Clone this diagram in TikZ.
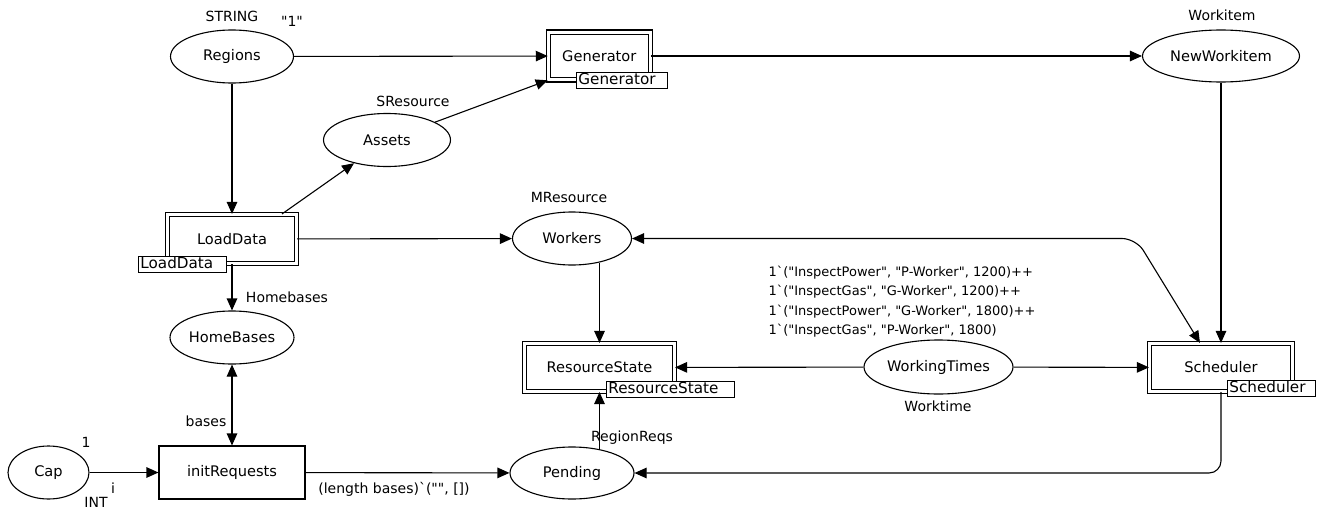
\documentclass[tikz,border=0pt]{standalone}
\usepackage{fontspec}
\setmainfont{DejaVu Sans}[Ligatures=TeXOff]
\usetikzlibrary{shapes.geometric,arrows.meta,calc}
\begin{document}
\begin{tikzpicture}[x=1pt,y=-1pt,
  font=\fontsize{14}{16.5}\selectfont,
  line width=1.1pt,
  place/.style={draw,ellipse,inner sep=0pt,font=\fontsize{14.6}{17}\selectfont},
  trans/.style={draw,rectangle,inner sep=0pt,font=\fontsize{14.6}{17}\selectfont},
  subst/.style={draw,rectangle,double,double distance=3.4pt,line width=1.1pt,inner sep=0pt,font=\fontsize{14.6}{17}\selectfont},
  tag/.style={draw,fill=white,rectangle,anchor=north west,inner xsep=2pt,inner ysep=0.8pt,
    line width=0.9pt,align=left,text height=11.2pt,text depth=3pt,font=\fontsize{15.2}{17}\selectfont},
  lbl/.style={inner sep=0pt},
  arc/.style={-{Triangle[length=12pt,width=10.5pt]}},
  darc/.style={{Triangle[length=12pt,width=10.5pt]}-{Triangle[length=12pt,width=10.5pt]}}
]
\useasboundingbox (0,0) rectangle (1320,514);

% places
\node[place,minimum width=123pt,minimum height=53pt] (Regions) at (232,56.5) {Regions};
\node[place,minimum width=127pt,minimum height=53pt] (Assets) at (387,140) {Assets};
\node[place,minimum width=157pt,minimum height=52pt] (NewWorkitem) at (1221,56) {NewWorkitem};
\node[place,minimum width=119pt,minimum height=53pt] (Workers) at (572,238.5) {Workers};
\node[place,minimum width=124pt,minimum height=53pt] (HomeBases) at (232,337.5) {HomeBases};
\node[place,minimum width=81pt,minimum height=53pt] (Cap) at (48.5,472.5) {Cap};
\node[place,minimum width=124pt,minimum height=52pt] (Pending) at (572,473) {Pending};
\node[place,minimum width=149pt,minimum height=54pt] (WorkingTimes) at (938.5,367) {WorkingTimes};

% transitions
\node[trans,minimum width=146pt,minimum height=53pt] (initRequests) at (232,472.5) {initRequests};
\node[subst,minimum width=102pt,minimum height=47.5pt] (Generator) at (599.3,56) {Generator};
\node[subst,minimum width=129pt,minimum height=49pt] (LoadData) at (232,239) {LoadData};
\node[subst,minimum width=150pt,minimum height=48pt] (ResourceState) at (599.5,367.5) {ResourceState};
\node[subst,minimum width=143pt,minimum height=48pt] (Scheduler) at (1221,367.5) {Scheduler};

% substitution tags
\node[tag,text width=87pt] (GenTag) at (576,72) {Generator};
\node[tag,text width=84pt] (LDTag) at (138,256) {LoadData};
\node[tag,text width=124pt] (RSTag) at (606,381) {ResourceState};
\node[tag,text width=84pt] (SchTag) at (1227,380) {Scheduler};

% colour sets, initial markings, inscriptions
\node[lbl] (tString) at (232,16) {STRING};
\node[lbl] (mRegions) at (292,21) {"1"};
\node[lbl] (tSRes) at (413,101) {SResource};
\node[lbl] (tWorkitem) at (1222,15) {Workitem};
\node[lbl] (tMRes) at (569,197) {MResource};
\node[lbl] (tHome) at (287,297) {Homebases};
\node[lbl] (iBases) at (206,421) {bases};
\node[lbl] (mCap) at (86,442) {1};
\node[lbl] (iI) at (113,488) {i};
\node[lbl] (tInt) at (96,502) {INT};
\node[lbl] (iLen) at (394,489) {(length bases)\symbol{96}("", [])};
\node[lbl] (tRegReqs) at (632,438) {RegionReqs};
\node[lbl] (tWorktime) at (938,406) {Worktime};
\node[lbl,anchor=west,align=left,font=\fontsize{13}{19.5}\selectfont] (mWT) at (768,301.5)
 {1\symbol{96}("InspectPower", "P-Worker", 1200)++\\
  1\symbol{96}("InspectGas", "G-Worker", 1200)++\\
  1\symbol{96}("InspectPower", "G-Worker", 1800)++\\
  1\symbol{96}("InspectGas", "P-Worker", 1800)};

% arcs
\draw[arc] (Regions) -- (Generator);
\draw[arc] (Regions) -- (LoadData);
\draw[arc] (Assets) -- (Generator.south west);
\draw[arc] ([xshift=50pt]LoadData.north) -- (Assets);
\draw[arc] (LoadData) -- (Workers);
\draw[arc] (LoadData) -- (HomeBases);
\draw[darc] (HomeBases) -- (initRequests);
\draw[arc] (Cap) -- (initRequests);
\draw[arc] (initRequests) -- (Pending);
\draw[arc,shorten <=-2.6pt] (ResourceState.south |- Pending.north) -- (ResourceState.south);
\draw[arc,shorten <=-2.6pt] (ResourceState.north |- Workers.south) -- (ResourceState.north);
\draw[arc] (WorkingTimes) -- (ResourceState);
\draw[arc] (WorkingTimes) -- (Scheduler);
\draw[arc] (Generator) -- (NewWorkitem);
\draw[arc] (NewWorkitem) -- (Scheduler);
\coordinate (wsBend) at (1136,238.5);
\draw[darc,rounded corners=14pt] (Workers.east) -- (wsBend) -- ([xshift=-21pt]Scheduler.north);
\draw[arc,rounded corners=12pt] (Scheduler.south) |- (Pending.east);
\end{tikzpicture}
\end{document}
